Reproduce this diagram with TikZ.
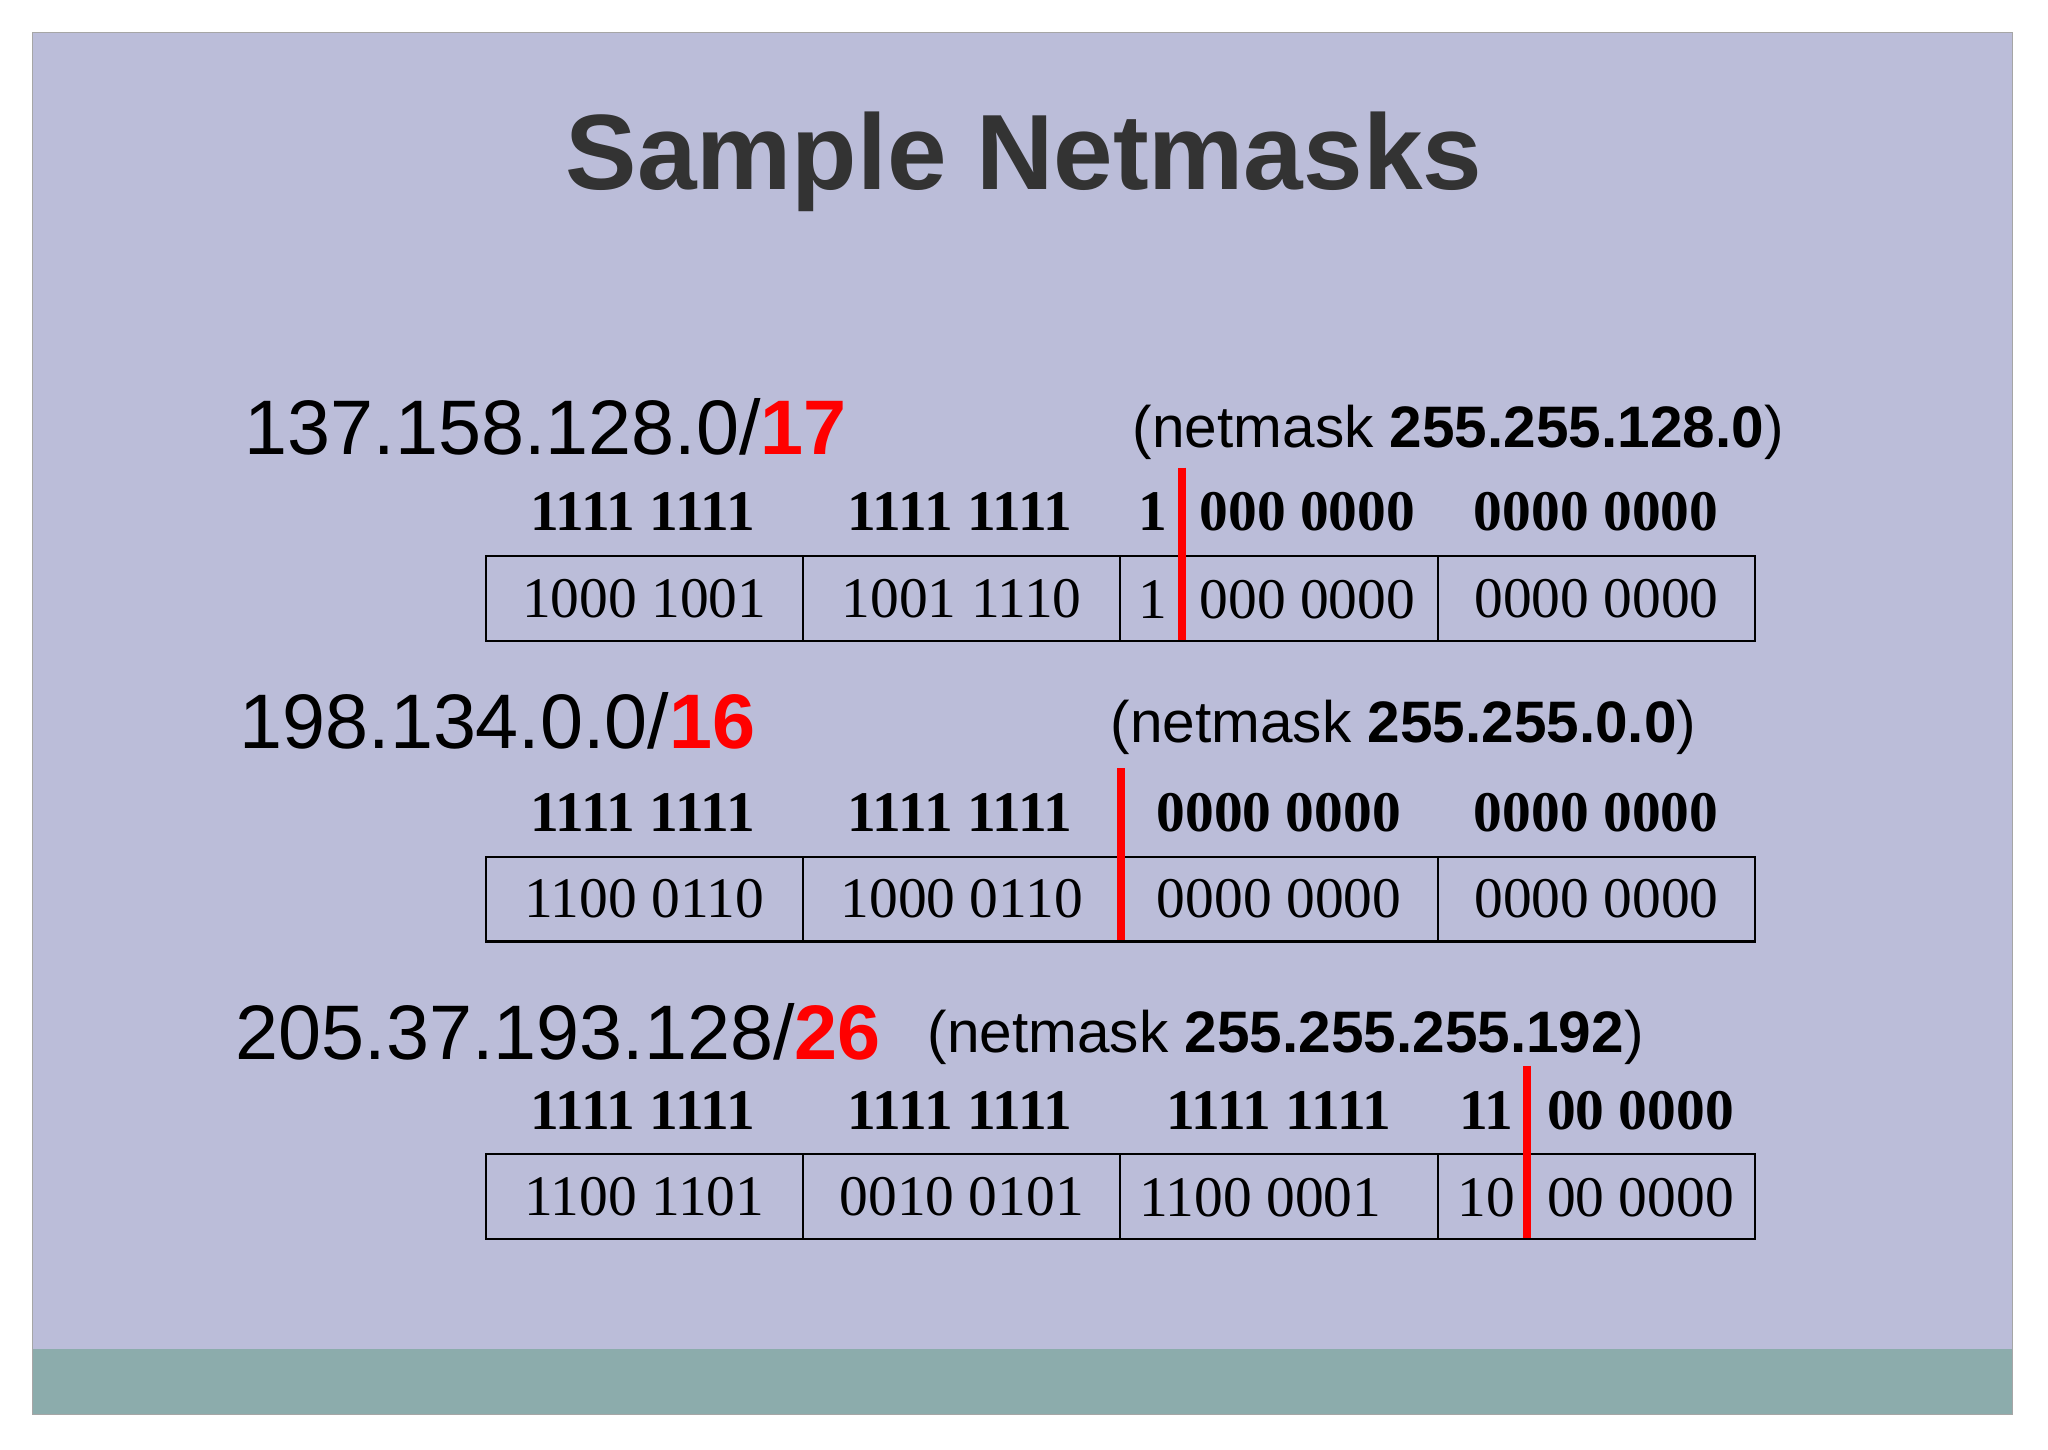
\documentclass[tikz,border=0pt]{standalone}
\usepackage{fontspec}
\setmainfont{Liberation Serif}
\setsansfont{Liberation Sans}
\definecolor{slidebg}{RGB}{187,189,217}
\definecolor{bandcol}{RGB}{140,172,172}
\definecolor{titlecol}{RGB}{51,51,51}
\tikzset{
  cell/.style={draw=black, line width=0.8pt, minimum width=121.5pt, minimum height=32.5pt, inner sep=0pt, anchor=north west},
  bits/.style={font=\fontsize{22}{24}\selectfont},
  maskbits/.style={font=\fontsize{22}{24}\selectfont\bfseries},
  iplabel/.style={font=\sffamily\fontsize{29.6}{32}\selectfont, anchor=west, inner sep=0pt},
  masklabel/.style={font=\sffamily\fontsize{22.4}{24}\selectfont, anchor=west, inner sep=0pt},
  cut/.style={draw=red, line width=3pt}
}
\begin{document}
\begin{tikzpicture}[x=0.5pt,y=-0.5pt]
\useasboundingbox (0,0) rectangle (1568,1110);
\fill[white] (0,0) rectangle (1568,1110);
\fill[slidebg] (25,25) rectangle (1541,1083);
\fill[bandcol] (25,1033) rectangle (1541,1083);
\draw[gray!70, line width=0.5pt] (25,25) rectangle (1541,1083);
\node[font=\sffamily\bfseries\fontsize{41}{44}\selectfont, text=titlecol] (title) at (784,124) {Sample Netmasks};
% row 1
\node[iplabel] (ipa) at (187,327) {137.158.128.0/\textbf{\textcolor{red}{17}}};
\node[masklabel] (maska) at (867,331) {(netmask \textbf{255.255.128.0})};
\foreach \x/\t [count=\i] in {371/1000 1001,614/1001 1110,1100/0000 0000}
  \node[cell] (a\i) at (\x,425) {};
\node[cell] (a4) at (857,425) {};
\node[bits] at (a1) {1000 1001};
\node[bits] at (a2) {1001 1110};
\node[bits] at (a3) {0000 0000};
\node[bits] at (883,459) {1};
\node[bits] at (1001,459) {000 0000};
\node[maskbits] at (492,392) {1111 1111};
\node[maskbits] at (735,392) {1111 1111};
\node[maskbits] at (883,392) {1};
\node[maskbits] at (1001,392) {000 0000};
\node[maskbits] at (1222,392) {0000 0000};
\draw[cut] (905,358) -- (905,490);
% row 2
\node[iplabel] (ipb) at (183,552) {198.134.0.0/\textbf{\textcolor{red}{16}}};
\node[masklabel] (maskb) at (850,557) {(netmask \textbf{255.255.0.0})};
\foreach \x/\t [count=\i] in {371/1100 0110,614/1000 0110,857/0000 0000,1100/0000 0000}{
  \node[cell] (b\i) at (\x,655) {};
  \node[bits] at (b\i) {\t};
}
\foreach \x/\t in {492/1111 1111,735/1111 1111,979/0000 0000,1222/0000 0000}
  \node[maskbits] at (\x,622) {\t};
\draw[cut] (858,588) -- (858,720);
% row 3
\node[iplabel] (ipc) at (180,790) {205.37.193.128/\textbf{\textcolor{red}{26}}};
\node[masklabel] (maskc) at (710,794) {(netmask \textbf{255.255.255.192})};
\foreach \x [count=\i] in {371,614,857,1100}
  \node[cell] (c\i) at (\x,883) {};
\node[bits] at (c1) {1100 1101};
\node[bits] at (c2) {0010 0101};
\node[bits] at (965,917) {1100 0001};
\node[bits] at (1138,917) {10};
\node[bits] at (1256,917) {00 0000};
\foreach \x/\t in {492/1111 1111,735/1111 1111,979/1111 1111,1138/11,1256/00 0000}
  \node[maskbits] at (\x,850) {\t};
\draw[cut] (1169,816) -- (1169,948);
\end{tikzpicture}
\end{document}
